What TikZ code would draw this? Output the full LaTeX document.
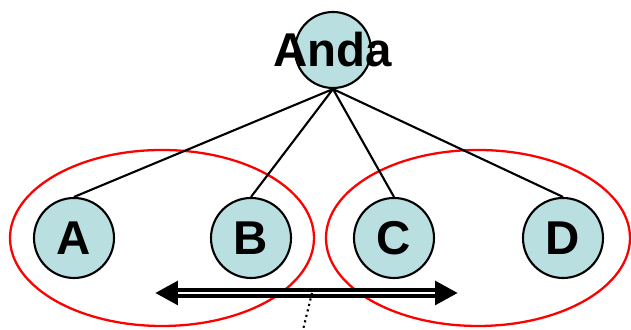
\documentclass[tikz,border=0pt]{standalone}
\usepackage{fontspec}
\setmainfont{Liberation Sans}
\usetikzlibrary{positioning, arrows.meta}
\definecolor{ballfill}{RGB}{185,223,225}
\tikzset{
person/.style={circle, draw, line width=0.6pt, fill=ballfill, minimum size=0.8cm, inner sep=0pt, font=\bfseries\fontsize{13.5}{14}\selectfont}, % one circle per member
tie/.style={line width=0.6pt}, % the lines down from the top circle
group/.style={draw=red, line width=0.65pt}, % red ring round a pair
tip/.style={-{Triangle[length=6.5pt,width=6.5pt]}},
}

\begin{document}
\begin{tikzpicture}
      \useasboundingbox (0,0) rectangle (6.31,-3.30);

      % the pairs
      \draw[group] (1.62,-2.38) ellipse (1.52 and 0.88);
      \draw[group] (4.78,-2.38) ellipse (1.52 and 0.88);

      \node[person, minimum size=0.76cm, label={[font=\bfseries\fontsize{13.5}{14}\selectfont]center:Anda}] (anda) at (3.33,-0.50) {};
      \node[person] (a) at (0.74,-2.38) {A};
      \node[person] (b) at ([xshift=1.77cm]a) {B};
      \node[person] (c) at ([xshift=1.43cm]b) {C};
      \node[person] (d) at ([xshift=1.69cm]c) {D};

      \draw[tie]
      (anda.south) -- (a.north)
      (anda.south) -- (b.north)
      (anda.south) -- (c.north)
      (anda.south) -- (d.north)
      ;

      % the double arrow
      \coordinate (left) at (1.55,-2.93);
      \coordinate (right) at (4.58,-2.93);
      \coordinate (mid) at (3.12,-2.93);
      \coordinate (foot) at (3.03,-3.30);
      \draw[line width=2.6pt, tip] (mid) -- (right);
      \draw[line width=2.6pt, tip] (mid) -- (left);
      \draw[white, line width=0.8pt, shorten <=0.23cm, shorten >=0.23cm] (left) -- (right);
      \draw[densely dotted, line width=0.6pt] (mid) -- (foot);
\end{tikzpicture}
\end{document}
